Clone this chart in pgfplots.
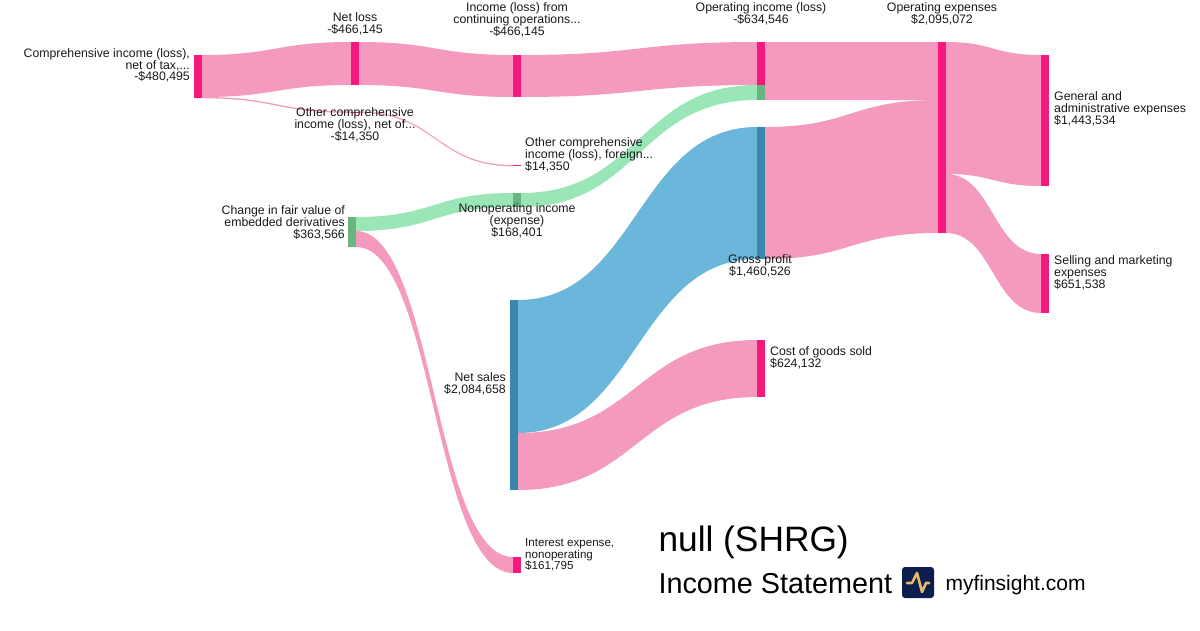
\documentclass[border=0pt]{standalone}
\usepackage{fontspec}
\setmainfont{Liberation Sans}
\usepackage{pgfplots}
\pgfplotsset{compat=1.18}
\definecolor{nodepink}{RGB}{245,25,125}
\definecolor{flowpink}{RGB}{244,154,190}
\definecolor{nodeblue}{RGB}{58,135,173}
\definecolor{flowblue}{RGB}{106,183,219}
\definecolor{nodegreen}{RGB}{106,180,128}
\definecolor{flowgreen}{RGB}{155,230,182}
\definecolor{navy}{RGB}{12,30,78}
\definecolor{gold}{RGB}{233,184,102}
\tikzset{lab/.style={font=\fontsize{12.3}{11.7}\selectfont, inner sep=0pt, text=black!90}}
% flow: x1, top1, bot1, x2, top2, bot2, xmid, colour
\newcommand{\flow}[8]{\fill[#8] (axis cs:#1,#2) .. controls (axis cs:#7,#2) and (axis cs:#7,#5) .. (axis cs:#4,#5) -- (axis cs:#4,#6) .. controls (axis cs:#7,#6) and (axis cs:#7,#3) .. (axis cs:#1,#3) -- cycle;}
% node box: x1, x2, top, bottom, colour
\newcommand{\nbox}[5]{\addplot[fill=#5, draw=none] coordinates {(#1,#3) (#2,#3) (#2,#4) (#1,#4)} -- cycle;}
\begin{document}
\begin{tikzpicture}
\begin{axis}[
  width=1200pt, height=630pt, scale only axis,
  xmin=0, xmax=1200, ymin=0, ymax=630, y dir=reverse,
  hide axis, clip=false
]
\path (axis cs:0,0) rectangle (axis cs:1200,630);
% flows
\flow{202}{55}{97}{351}{42}{85}{276}{flowpink}
\flow{202}{97}{98.3}{351}{111.5}{112.8}{276}{flowpink}
\flow{359}{42}{85}{513}{55}{97}{436}{flowpink}
\flow{359}{111.5}{112.8}{513}{165}{166.3}{436}{flowpink}
\flow{356}{217}{231}{513}{193}{207}{434}{flowgreen}
\flow{356}{231}{247}{513}{557}{573}{434}{flowpink}
\flow{521}{55}{97}{757}{42}{85}{639}{flowpink}
\flow{521}{193}{207}{757}{85}{100}{639}{flowgreen}
\flow{518}{300}{433}{757}{127}{259}{637}{flowblue}
\flow{518}{433}{490}{757}{340}{397}{637}{flowpink}
\flow{765}{42}{100}{938}{42}{100}{851}{flowpink}
\flow{765}{127}{259}{938}{100}{233}{851}{flowpink}
\flow{946}{42}{174}{1041}{55}{186}{993}{flowpink}
\flow{946}{174}{233}{1041}{254}{313}{993}{flowpink}
% nodes
\nbox{194}{202}{55}{98.3}{nodepink}
\nbox{351}{359}{42}{85}{nodepink}
\nbox{351}{359}{111.5}{112.8}{nodepink}
\nbox{348}{356}{217}{247}{nodegreen}
\nbox{513}{521}{55}{97}{nodepink}
\nbox{513}{521}{165}{166.3}{nodepink}
\nbox{513}{521}{193}{207}{nodegreen}
\nbox{510}{518}{300}{490}{nodeblue}
\nbox{513}{521}{557}{573}{nodepink}
\nbox{757}{765}{42}{85}{nodepink}
\nbox{757}{765}{85}{100}{nodegreen}
\nbox{757}{765}{127}{259}{nodeblue}
\nbox{757}{765}{340}{397}{nodepink}
\nbox{938}{946}{42}{233}{nodepink}
\nbox{1041}{1049}{55}{186}{nodepink}
\nbox{1041}{1049}{254}{313}{nodepink}
% labels
\node[lab, anchor=east, align=right] at (axis cs:190,65.5) {Comprehensive income (loss),\\net of tax,...\\-\$480,495};
\node[lab, align=center] at (axis cs:355,24) {Net loss\\-\$466,145};
\node[lab, align=center] at (axis cs:517,20) {Income (loss) from\\continuing operations...\\-\$466,145};
\node[lab, align=center] at (axis cs:761,14) {Operating income (loss)\\-\$634,546};
\node[lab, align=center] at (axis cs:942,14) {Operating expenses\\\$2,095,072};
\node[lab, align=center] at (axis cs:355,125) {Other comprehensive\\income (loss), net of...\\-\$14,350};
\node[lab, anchor=west, align=left] at (axis cs:525,155) {Other comprehensive\\income (loss), foreign...\\\$14,350};
\node[lab, anchor=east, align=right] at (axis cs:345,223) {Change in fair value of\\embedded derivatives\\\$363,566};
\node[lab, align=center] at (axis cs:517,221) {Nonoperating income\\(expense)\\\$168,401};
\node[lab, anchor=east, align=right] at (axis cs:506,384) {Net sales\\\$2,084,658};
\node[lab, align=center] at (axis cs:760,266) {Gross profit\\\$1,460,526};
\node[lab, anchor=west, align=left] at (axis cs:770,357.5) {Cost of goods sold\\\$624,132};
\node[lab, anchor=west, align=left] at (axis cs:1054,109) {General and\\administrative expenses\\\$1,443,534};
\node[lab, anchor=west, align=left] at (axis cs:1054,273) {Selling and marketing\\expenses\\\$651,538};
\node[lab, anchor=west, align=left, font=\fontsize{11.6}{11.7}\selectfont] at (axis cs:525,555) {Interest expense,\\nonoperating\\\$161,795};
% title
\node[anchor=base west, font=\fontsize{35.3}{40}\selectfont, text=black] at (axis cs:655,551) {null (SHRG)};
\node[anchor=base west, font=\fontsize{28.8}{32}\selectfont, text=black] at (axis cs:655,593) {Income Statement};
\node[anchor=base west, font=\fontsize{21}{24}\selectfont, text=black] at (axis cs:942,590) {myfinsight.com};
\fill[navy, rounded corners=3pt] (axis cs:902,567) rectangle (axis cs:934,598);
\draw[gold, line width=2.6pt, line cap=round, line join=round] (axis cs:907,583) -- (axis cs:912,583) -- (axis cs:917,573) -- (axis cs:922,592) -- (axis cs:926,583) -- (axis cs:929,583);
\end{axis}
\end{tikzpicture}
\end{document}
